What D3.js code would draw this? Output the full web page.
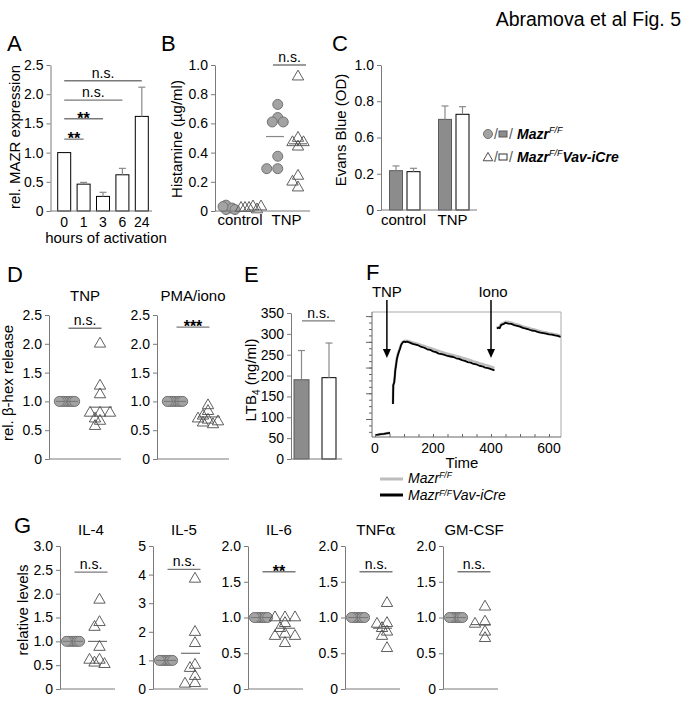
<!DOCTYPE html>
<html>
<head>
<meta charset="utf-8">
<title>Abramova et al Fig. 5</title>
<script src="https://cdn.jsdelivr.net/npm/d3@7"></script>
<style>
  body { margin: 0; background: #fff; }
  svg { display: block; }
</style>
</head>
<body>
<script>
// ---------- data ----------
// A: MAZR expression
var aHours = ["0", "1", "3", "6", "24"];
var aExpr = [1.0, 0.46, 0.25, 0.62, 1.62];
var aErr = [0, 0.03, 0.07, 0.11, 0.50];
var aSigTo = ["24", "6", "3", "1"];
var aSigLabel = ["n.s.", "n.s.", "**", "**"];
var aSigLevel = [2.23, 1.90, 1.58, 1.23];

// B: histamine
var bCats = ["control", "TNP"];
var bCtrlWT = [0.02, 0.04, 0.01, 0.02, 0.03, 0.01];
var bCtrlKO = [0.03, 0.02, 0.01, 0.02, 0.03, 0.02];
var bTnpWT = [0.73, 0.64, 0.61, 0.61, 0.375, 0.29, 0.29];
var bTnpKO = [0.92, 0.50, 0.47, 0.47, 0.44, 0.24, 0.20, 0.16];
var bTnpMean = [0.51, 0.46];

// C: Evans blue
var cCats = ["control", "TNP"];
var cTicks = [0, 0.2, 0.6, 0.8, 1.0];
var cWT = [0.234, 0.70];
var cWTerr = [0.052, 0.074];
var cKO = [0.223, 0.728];
var cKOerr = [0.037, 0.042];

// D: beta-hex release
var dTitles = ["TNP", "PMA/iono"];
var dWT = [[1, 1, 1, 1, 1, 1, 1, 1], [1, 1, 1, 1, 1, 1, 1, 1]];
var dKO = [[2.0, 1.27, 1.12, 0.80, 0.80, 0.80, 0.66, 0.70, 0.57],
           [0.93, 0.83, 0.75, 0.68, 0.70, 0.65, 0.63, 0.60]];
var dKOMean = [0.90, 0.73];
var dSigLabel = ["n.s.", "***"];
var dSigLevel = [2.27, 2.29];

// E: LTB4
var eVals = [190, 195];
var eErr = [70, 83];

// F: calcium flux trace (null = gap)
var fTime = [0, 10, 20, 30, 40, 52, null,
  62, 63, 66, 68, 70, 72, 75, 78, 82, 86, 90, 95, 100, 105, 110, 120, 130, 140, 150, 160,
  170, 180, 190, 200, 210, 220, 230, 240, 250, 260, 270, 280, 290, 300, 310, 320, 330,
  340, 350, 360, 370, 380, 390, 400, 412, null,
  420, 425, 430, 435, 440, 445, 450, 460, 470, 480, 490, 500, 510, 520, 530, 540, 550,
  560, 570, 580, 590, 600, 610, 620, 630, 640];
var fBlack = [38, 39, 41, 42, 44, 46, null,
  158, 232, 240, 262, 290, 305, 330, 345, 360, 372, 388, 397, 401, 399, 401, 397, 392, 389, 386, 380,
  377, 371, 369, 363, 360, 354, 352, 349, 345, 343, 341, 336, 334, 329, 326, 321, 319,
  314, 312, 307, 305, 300, 298, 294, 289, null,
  452, 455, 453, 466, 468, 470, 474, 471, 470, 465, 462, 459, 454, 451, 448, 444, 443,
  439, 436, 434, 432, 429, 428, 425, 423, 419];
var fGrey = [38, 39, 41, 42, 44, 46, null,
  160, 234, 242, 264, 292, 307, 333, 348, 363, 375, 390, 399, 403, 403, 404, 401, 397, 394, 391, 387,
  384, 379, 376, 372, 368, 364, 360, 357, 354, 351, 348, 345, 342, 338, 335, 331, 328,
  324, 321, 317, 314, 310, 307, 303, 298, null,
  455, 457, 458, 469, 472, 475, 478, 477, 474, 470, 467, 464, 460, 457, 454, 450, 448,
  444, 441, 438, 436, 433, 431, 429, 427, 424];
var fArrowTime = [41, 400];
var fArrowLabel = ["TNP", "Iono"];

// G: cytokines
var gNames = ["IL-4", "IL-5", "IL-6", "TNF", "GM-CSF"];
var gMax = [3, 5, 2, 2, 2];
var gStep = [0.5, 1, 0.5, 0.5, 0.5];
var gWT = [1, 1, 1, 1, 1, 1, 1];
var gKO = [[1.87, 1.40, 1.30, 0.88, 0.61, 0.61, 0.55, 0.52],
           [3.85, 1.99, 1.60, 0.84, 0.73, 0.45, 0.20, 0.18],
           [1.0, 1.0, 1.0, 0.92, 0.85, 0.77, 0.74, 0.74, 0.64],
           [1.20, 0.92, 0.91, 0.85, 0.80, 0.74, 0.57],
           [1.15, 0.94, 0.91, 0.80, 0.71]];
var gKOMean = [1.0, 1.25, 0.85, 0.85, 0.90];
var gSigLabel = ["n.s.", "n.s.", "**", "n.s.", "n.s."];
var gSigLevel = [2.45, 4.18, 1.64, 1.64, 1.64];

// ---------- helpers ----------
var FONT = "'Liberation Sans', Arial, Helvetica, sans-serif";
var AX = "#7a7a7a";

var svg = d3.select("body").append("svg")
  .attr("width", 683).attr("height", 704)
  .style("font-family", FONT);

function label(x, y, s, size, anchor) {
  return svg.append("text").attr("x", x).attr("y", y)
    .attr("font-size", size).attr("text-anchor", anchor || "start").text(s);
}
function vlabel(x, y, s) {
  return svg.append("text").attr("transform", "translate(" + x + "," + y + ") rotate(-90)")
    .attr("font-size", 15).attr("text-anchor", "middle").text(s);
}
function hline(x1, x2, y, col, w) {
  return svg.append("line").attr("x1", x1).attr("x2", x2).attr("y1", y).attr("y2", y)
    .attr("stroke", col || AX).attr("stroke-width", w || 1);
}
function leftAxis(y, x, ticks, fmt) {
  var g = svg.append("g").attr("transform", "translate(" + x + ",0)")
    .call(d3.axisLeft(y).tickValues(ticks).tickFormat(fmt).tickSize(4).tickPadding(3).tickSizeOuter(0))
    .attr("font-size", 14).attr("font-family", FONT);
  g.select(".domain").attr("stroke", AX);
  g.selectAll(".tick line").attr("stroke", AX);
  g.selectAll(".tick text").attr("fill", "#000");
  return g;
}
var fmt1 = function(d) { return d === 0 ? "0" : d3.format(".1f")(d); };
var fmt0 = function(d) { return String(d); };

// simple dodge so that markers with close values sit side by side
function swarm(vals, y, minD, step) {
  var placed = [];
  vals.forEach(function(v) {
    var py = y(v);
    for (var k = 0; k < 60; k++) {
      var off = (k % 2 ? -1 : 1) * Math.ceil(k / 2) * step;
      var ok = placed.every(function(p) { return Math.hypot(p.dx - off, p.y - py) >= minD; });
      if (ok) { placed.push({v: v, dx: off, y: py}); return; }
    }
  });
  var lo = d3.min(placed, function(p) { return p.dx; });
  var hi = d3.max(placed, function(p) { return p.dx; });
  placed.forEach(function(p) { p.dx -= (lo + hi) / 2; });
  return placed;
}
function circles(vals, cx, y, minD, step) {
  svg.append("g").selectAll("circle").data(swarm(vals, y, minD, step)).join("circle")
    .attr("cx", function(d) { return cx + d.dx; }).attr("cy", function(d) { return d.y; })
    .attr("r", 5).attr("fill", "#a3a3a3").attr("stroke", "#737373").attr("stroke-width", 1);
}
function triangles(vals, cx, y, minD, step) {
  var sym = d3.symbol(d3.symbolTriangle, 56);
  svg.append("g").selectAll("path").data(swarm(vals, y, minD, step)).join("path")
    .attr("d", sym)
    .attr("transform", function(d) { return "translate(" + (cx + d.dx) + "," + d.y + ")"; })
    .attr("fill", "none").attr("stroke", "#4d4d4d").attr("stroke-width", 0.9);
}
function sig(cx, yy, lbl) {
  hline(cx - 16.5, cx + 16.5, yy, AX, 1.3);
  if (lbl.charAt(0) === "*") {
    label(cx, yy + 5, lbl, 16, "middle").attr("font-weight", "bold");
  } else {
    label(cx, yy - 3, lbl, 14, "middle");
  }
}
function errBar(cx, yTop, yErr) {
  svg.append("line").attr("x1", cx).attr("x2", cx).attr("y1", yTop).attr("y2", yErr)
    .attr("stroke", "#8a8a8a").attr("stroke-width", 1.2);
  hline(cx - 3.5, cx + 3.5, yErr, "#8a8a8a", 1.2);
}
function panelLetter(x, y, s) { label(x, y, s, 22); }

// ---------- title ----------
label(681, 26, "Abramova et al Fig. 5", 19.5, "end");

// ---------- A ----------
(function() {
  var y = d3.scaleLinear().domain([0, 2.5]).range([211, 65]);
  var x = d3.scaleBand().domain(aHours).range([54.5, 151.5]).paddingInner(0.33).paddingOuter(0.165);
  panelLetter(7, 51, "A");
  svg.append("g").selectAll("rect").data(aHours).join("rect")
    .attr("x", function(d) { return x(d); }).attr("width", x.bandwidth())
    .attr("y", function(d, i) { return y(aExpr[i]); })
    .attr("height", function(d, i) { return y(0) - y(aExpr[i]); })
    .attr("fill", "#fff").attr("stroke", "#000").attr("stroke-width", 1);
  aHours.forEach(function(h, i) {
    if (aErr[i] > 0) errBar(x(h) + x.bandwidth() / 2, y(aExpr[i]), y(aExpr[i] + aErr[i]));
    label(x(h) + x.bandwidth() / 2, 227, h, 14, "middle");
  });
  leftAxis(y, 50.5, [0, 0.5, 1, 1.5, 2, 2.5], fmt1);
  hline(50.5, 152, 211);
  var c0 = x("0") + x.bandwidth() / 2;
  aSigTo.forEach(function(h, i) {
    var c1 = x(h) + x.bandwidth() / 2;
    var yy = y(aSigLevel[i]);
    hline(c0, c1, yy, AX, 1.3);
    if (aSigLabel[i].charAt(0) === "*") label((c0 + c1) / 2, yy + 5, aSigLabel[i], 16, "middle").attr("font-weight", "bold");
    else label((c0 + c1) / 2, yy - 3, aSigLabel[i], 14, "middle");
  });
  vlabel(20, 137, "rel. MAZR expression");
  label(106, 243, "hours of activation", 15, "middle");
})();

// ---------- B ----------
(function() {
  var y = d3.scaleLinear().domain([0, 1]).range([211, 65]);
  var x = d3.scalePoint().domain(bCats).range([240, 286.5]);
  panelLetter(161, 51, "B");
  circles(bCtrlWT, x("control") - 11, y, 3, 3);
  triangles(bCtrlKO, x("control") + 11, y, 4, 4);
  circles(bTnpWT, x("TNP") - 11.5, y, 6, 5.5);
  triangles(bTnpKO, x("TNP") + 11.5, y, 6, 5.5);
  hline(x("TNP") - 11.5 - 9, x("TNP") - 11.5 + 9, y(bTnpMean[0]), "#888", 1.2);
  hline(x("TNP") + 11.5 - 9, x("TNP") + 11.5 + 9, y(bTnpMean[1]), "#555", 1);
  leftAxis(y, 215, [0, 0.2, 0.4, 0.6, 0.8, 1.0], fmt1);
  hline(215, 310, 211);
  bCats.forEach(function(c) { label(x(c), 225, c, 15, "middle"); });
  sig(x("TNP") + 3, y(1.0), "n.s.");
  vlabel(182, 139, "Histamine (\u00b5g/ml)");
})();

// ---------- C ----------
(function() {
  var y = d3.scaleLinear().domain(cTicks).range(cTicks.map(function(d, i) { return 210 - i * 36.25; }));
  var x = d3.scaleBand().domain(cCats).range([381, 479]);
  panelLetter(332, 51, "C");
  cCats.forEach(function(c, i) {
    var mid = x(c) + x.bandwidth() / 2;
    svg.append("rect").attr("x", mid - 16).attr("width", 13)
      .attr("y", y(cWT[i])).attr("height", y(0) - y(cWT[i]))
      .attr("fill", "#8c8c8c").attr("stroke", "#5a5a5a");
    errBar(mid - 9.5, y(cWT[i]), y(cWT[i] + cWTerr[i]));
    svg.append("rect").attr("x", mid + 1.5).attr("width", 13)
      .attr("y", y(cKO[i])).attr("height", y(0) - y(cKO[i]))
      .attr("fill", "#fff").attr("stroke", "#000");
    errBar(mid + 8, y(cKO[i]), y(cKO[i] + cKOerr[i]));
    label(mid - 2, 225, c, 15, "middle");
  });
  leftAxis(y, 381, cTicks, fmt1);
  hline(381, 477, 210);
  vlabel(346, 130, "Evans Blue (OD)");

  // legend
  svg.append("circle").attr("cx", 488).attr("cy", 134).attr("r", 4.5)
    .attr("fill", "#a3a3a3").attr("stroke", "#737373");
  label(494, 139, "/", 14).attr("fill", "#555");
  svg.append("rect").attr("x", 499).attr("y", 131).attr("width", 8).attr("height", 6)
    .attr("fill", "#8c8c8c").attr("stroke", "#5a5a5a");
  label(509, 139, "/", 14).attr("fill", "#555");
  svg.append("path").attr("d", d3.symbol(d3.symbolTriangle, 40)())
    .attr("transform", "translate(488,158)").attr("fill", "none").attr("stroke", "#4d4d4d");
  label(494, 162, "/", 14).attr("fill", "#555");
  svg.append("rect").attr("x", 499).attr("y", 154).attr("width", 8).attr("height", 6)
    .attr("fill", "#fff").attr("stroke", "#333");
  label(509, 162, "/", 14).attr("fill", "#555");
  var t1 = label(517, 139, "", 14).attr("font-style", "italic").attr("font-weight", "bold");
  t1.append("tspan").text("Mazr");
  t1.append("tspan").attr("dy", -6).attr("font-size", 9).attr("font-weight", "normal").text("F/F");
  var t2 = label(517, 162, "", 14).attr("font-style", "italic").attr("font-weight", "bold");
  t2.append("tspan").text("Mazr");
  t2.append("tspan").attr("dy", -6).attr("font-size", 9).attr("font-weight", "normal").text("F/F");
  t2.append("tspan").attr("dy", 6).text("Vav-iCre");
})();

// ---------- D ----------
(function() {
  var y = d3.scaleLinear().domain([0, 2.5]).range([459, 315]);
  var axes = [49, 157];
  panelLetter(7, 282, "D");
  dTitles.forEach(function(t, i) {
    var ax = axes[i];
    var x = d3.scalePoint().domain(["wt", "ko"]).range([ax + 18, ax + 51]);
    circles(dWT[i], x("wt"), y, 2, 2.2);
    hline(x("wt") - 11, x("wt") + 11, y(1), "#777", 1);
    triangles(dKO[i], x("ko"), y, 5.5, 5);
    hline(x("ko") - 10, x("ko") + 12, y(dKOMean[i]), "#555", 1);
    leftAxis(y, ax, [0, 0.5, 1, 1.5, 2, 2.5], fmt1);
    hline(ax, ax + 72, 459);
    sig(ax + 36, y(dSigLevel[i]), dSigLabel[i]);
    label(ax + 36, 301, t, 15, "middle");
  });
  vlabel(13, 383, "rel. \u03b2-hex release");
})();

// ---------- E ----------
(function() {
  var y = d3.scaleLinear().domain([0, 350]).range([459, 313]);
  var x = d3.scalePoint().domain(["wt", "ko"]).range([302, 329]);
  panelLetter(244, 282, "E");
  svg.append("rect").attr("x", x("wt") - 8).attr("width", 15)
    .attr("y", y(eVals[0])).attr("height", y(0) - y(eVals[0]))
    .attr("fill", "#8c8c8c").attr("stroke", "#5a5a5a");
  errBar(x("wt") - 0.5, y(eVals[0]), y(eVals[0] + eErr[0]));
  svg.append("rect").attr("x", x("ko") - 7).attr("width", 14)
    .attr("y", y(eVals[1])).attr("height", y(0) - y(eVals[1]))
    .attr("fill", "#fff").attr("stroke", "#000");
  errBar(x("ko"), y(eVals[1]), y(eVals[1] + eErr[1]));
  leftAxis(y, 291, d3.range(0, 351, 50), fmt0);
  hline(291, 342, 459);
  sig(318.5, y(331), "n.s.");
  var t = svg.append("text").attr("transform", "translate(256,380) rotate(-90)")
    .attr("font-size", 15).attr("text-anchor", "middle");
  t.append("tspan").text("LTB");
  t.append("tspan").attr("dy", 4).attr("font-size", 10).text("4");
  t.append("tspan").attr("dy", -4).text(" (ng/ml)");
})();

// ---------- F ----------
(function() {
  var x = d3.scaleLinear().domain([0, 600]).range([375, 549]);
  var y = d3.scaleLinear().domain([30, 516]).range([437, 312]);
  var L = x(-10.3), R = x(641.4), T = y(516), B = y(30);
  panelLetter(366, 280, "F");
  hline(L, R, T, "#aaa", 1);
  svg.append("line").attr("x1", R).attr("x2", R).attr("y1", T).attr("y2", B).attr("stroke", "#aaa");

  var pts = fTime.map(function(t, i) { return {t: t, b: fBlack[i], g: fGrey[i]}; });
  var lineG = d3.line().defined(function(d) { return d.t != null; })
    .x(function(d) { return x(d.t); }).y(function(d) { return y(d.g); });
  var lineB = d3.line().defined(function(d) { return d.t != null; })
    .x(function(d) { return x(d.t); }).y(function(d) { return y(d.b); });
  svg.append("path").attr("d", lineG(pts)).attr("fill", "none")
    .attr("stroke", "#bdbdbd").attr("stroke-width", 2.6).attr("stroke-linejoin", "round");
  svg.append("path").attr("d", lineB(pts)).attr("fill", "none")
    .attr("stroke", "#000").attr("stroke-width", 1.8).attr("stroke-linejoin", "round");

  // left axis: major + minor ticks, no labels
  var ga = svg.append("g").attr("transform", "translate(" + L + ",0)")
    .call(d3.axisLeft(y).tickValues(d3.range(50, 501, 25)).tickFormat("").tickSize(3).tickSizeOuter(0));
  ga.select(".domain").remove();
  ga.selectAll(".tick line").attr("stroke", "#666");
  var gm = svg.append("g").attr("transform", "translate(" + L + ",0)")
    .call(d3.axisLeft(y).tickValues(d3.range(100, 501, 100)).tickFormat("").tickSize(6).tickSizeOuter(0));
  gm.select(".domain").remove();
  gm.selectAll(".tick line").attr("stroke", "#666");
  svg.append("line").attr("x1", L).attr("x2", L).attr("y1", T).attr("y2", B).attr("stroke", "#666");

  // bottom axis
  var gb = svg.append("g").attr("transform", "translate(0," + B + ")")
    .call(d3.axisBottom(x).tickValues(d3.range(0, 601, 50)).tickFormat("").tickSize(-3).tickSizeOuter(0));
  gb.select(".domain").remove();
  gb.selectAll(".tick line").attr("stroke", "#666");
  hline(L, R, B, "#666", 1);
  [0, 200, 400, 600].forEach(function(v) { label(x(v), 453, String(v), 14, "middle"); });
  label(462, 468, "Time", 15, "middle");

  // stimulus arrows
  fArrowTime.forEach(function(t, i) {
    var ax = x(t);
    svg.append("line").attr("x1", ax).attr("x2", ax).attr("y1", 300).attr("y2", 350)
      .attr("stroke", "#000").attr("stroke-width", 1.5);
    svg.append("path").attr("d", "M" + (ax - 4) + ",349L" + (ax + 4) + ",349L" + ax + ",358Z").attr("fill", "#000");
    label(ax + (i ? 2 : 0), 297, fArrowLabel[i], 15, "middle");
  });

  // legend
  hline(380, 403, 479, "#bdbdbd", 3);
  hline(380, 403, 495, "#000", 3);
  var l1 = label(408, 483, "", 14).attr("font-style", "italic");
  l1.append("tspan").text("Mazr");
  l1.append("tspan").attr("dy", -5).attr("font-size", 8.5).text("F/F");
  var l2 = label(408, 500, "", 14).attr("font-style", "italic");
  l2.append("tspan").text("Mazr");
  l2.append("tspan").attr("dy", -4).attr("font-size", 8.5).text("F/F");
  l2.append("tspan").attr("dy", 4).text("Vav-iCre");
})();

// ---------- G ----------
(function() {
  var axes = [60, 153, 248, 345, 443];
  panelLetter(14, 533, "G");
  gNames.forEach(function(name, i) {
    var ax = axes[i];
    var y = d3.scaleLinear().domain([0, gMax[i]]).range([689, 546]);
    var x = d3.scalePoint().domain(["wt", "ko"]).range([ax + 13, ax + 37]);
    circles(gWT, x("wt"), y, 2, 2.2);
    hline(x("wt") - 10, x("wt") + 10, y(1), "#777", 1);
    triangles(gKO[i], x("ko"), y, 5.5, 5);
    hline(x("ko") - 9, x("ko") + 10, y(gKOMean[i]), "#555", 1);
    var ticks = d3.range(0, gMax[i] + 1e-6, gStep[i]);
    leftAxis(y, ax, ticks, gStep[i] === 1 ? fmt0 : fmt1);
    hline(ax, ax + 55, 689);
    sig(ax + 31, y(gSigLevel[i]), gSigLabel[i]);
    var t = label(ax + 31, 535, name, 15, "middle");
    if (name === "TNF") t.append("tspan").attr("font-family", "'DejaVu Serif', serif").text("\u03b1");
  });
  vlabel(28, 610, "relative levels");
})();
</script>
</body>
</html>
